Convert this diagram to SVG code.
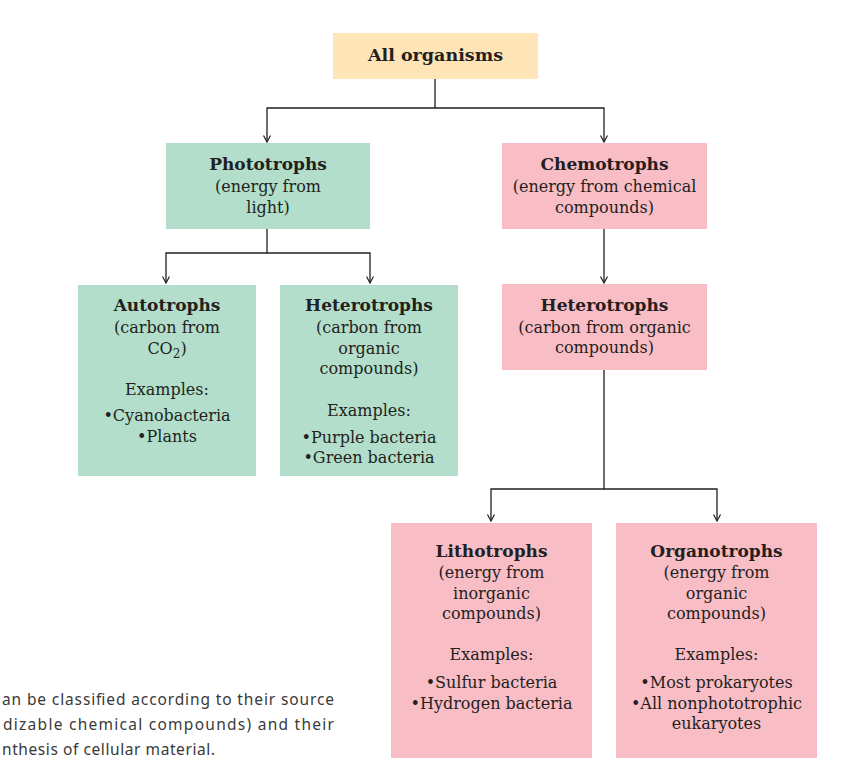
<svg xmlns="http://www.w3.org/2000/svg" width="858" height="772" viewBox="0 0 858 772">
<style>
.g{fill:#B2DECB}
.p{fill:#F9BDC6}
.y{fill:#FFE4B8}
text{font-family:"DejaVu Serif","Liberation Serif",serif;fill:#231F20;text-anchor:middle;font-size:16px}
.t{font-weight:bold;font-size:17px}
.c{font-family:"Noto Sans","DejaVu Sans",sans-serif;fill:#3a3a3a;text-anchor:start;font-size:15.5px}
.ln{fill:none;stroke:#231F20;stroke-width:1.3}
</style>
<defs>
<marker id="a" markerWidth="10" markerHeight="10" refX="9" refY="5" orient="auto" markerUnits="userSpaceOnUse" viewBox="0 0 10 10">
<path d="M2.5 1.5 L9 5 L2.5 8.5" fill="none" stroke="#231F20" stroke-width="1.2"/>
</marker>
</defs>
<rect width="858" height="772" fill="#fff"/>
<g id="connectors">
<path class="ln" d="M435 79 V108 H267 V142" marker-end="url(#a)"/>
<path class="ln" d="M435 108 H604 V142" marker-end="url(#a)"/>
<path class="ln" d="M267 229 V253 H166 V283" marker-end="url(#a)"/>
<path class="ln" d="M267 253 H370 V283" marker-end="url(#a)"/>
<path class="ln" d="M604 229 V283" marker-end="url(#a)"/>
<path class="ln" d="M604 370 V489 H491 V521" marker-end="url(#a)"/>
<path class="ln" d="M604 489 H717 V521" marker-end="url(#a)"/>
</g>
<g id="all">
<rect class="y" x="333" y="33" width="205" height="46"/>
<text class="t" x="435.5" y="61" style="font-size:17.5px">All organisms</text>
</g>
<g id="phototrophs">
<rect class="g" x="166" y="143" width="204" height="86"/>
<text class="t" x="268" y="170">Phototrophs</text>
<text x="268" y="192">(energy from</text>
<text x="268" y="213">light)</text>
</g>
<g id="chemotrophs">
<rect class="p" x="502" y="143" width="205" height="86"/>
<text class="t" x="604.5" y="170">Chemotrophs</text>
<text x="604.5" y="192">(energy from chemical</text>
<text x="604.5" y="213">compounds)</text>
</g>
<g id="autotrophs">
<rect class="g" x="78" y="285" width="178" height="191"/>
<text class="t" x="167" y="311">Autotrophs</text>
<text x="167" y="333">(carbon from</text>
<text x="167" y="354">CO<tspan style="font-size:12px" dy="4">2</tspan><tspan dy="-4">)</tspan></text>
<text x="167" y="395">Examples:</text>
<text x="167" y="421">•Cyanobacteria</text>
<text x="167" y="442">•Plants</text>
</g>
<g id="heterotrophs-photo">
<rect class="g" x="280" y="285" width="178" height="191"/>
<text class="t" x="369" y="311">Heterotrophs</text>
<text x="369" y="333">(carbon from</text>
<text x="369" y="354">organic</text>
<text x="369" y="374">compounds)</text>
<text x="369" y="416">Examples:</text>
<text x="369" y="443">•Purple bacteria</text>
<text x="369" y="463">•Green bacteria</text>
</g>
<g id="heterotrophs-chemo">
<rect class="p" x="502" y="284" width="205" height="86"/>
<text class="t" x="604.5" y="311">Heterotrophs</text>
<text x="604.5" y="333">(carbon from organic</text>
<text x="604.5" y="353">compounds)</text>
</g>
<g id="lithotrophs">
<rect class="p" x="391" y="523" width="201" height="235"/>
<text class="t" x="491.5" y="557">Lithotrophs</text>
<text x="491.5" y="578">(energy from</text>
<text x="491.5" y="599">inorganic</text>
<text x="491.5" y="619">compounds)</text>
<text x="491.5" y="660">Examples:</text>
<text x="491.5" y="688">•Sulfur bacteria</text>
<text x="491.5" y="709">•Hydrogen bacteria</text>
</g>
<g id="organotrophs">
<rect class="p" x="616" y="523" width="201" height="235"/>
<text class="t" x="716.5" y="557">Organotrophs</text>
<text x="716.5" y="578">(energy from</text>
<text x="716.5" y="599">organic</text>
<text x="716.5" y="619">compounds)</text>
<text x="716.5" y="660">Examples:</text>
<text x="716.5" y="688">•Most prokaryotes</text>
<text x="716.5" y="709">•All nonphototrophic</text>
<text x="716.5" y="729">eukaryotes</text>
</g>
<g id="caption">
<text class="c" x="2" y="705" textLength="332" lengthAdjust="spacing">an be classified according to their source</text>
<text class="c" x="3" y="730" textLength="331" lengthAdjust="spacing">dizable chemical compounds) and their</text>
<text class="c" x="2" y="755" textLength="213" lengthAdjust="spacing">nthesis of cellular material.</text>
</g>
</svg>
